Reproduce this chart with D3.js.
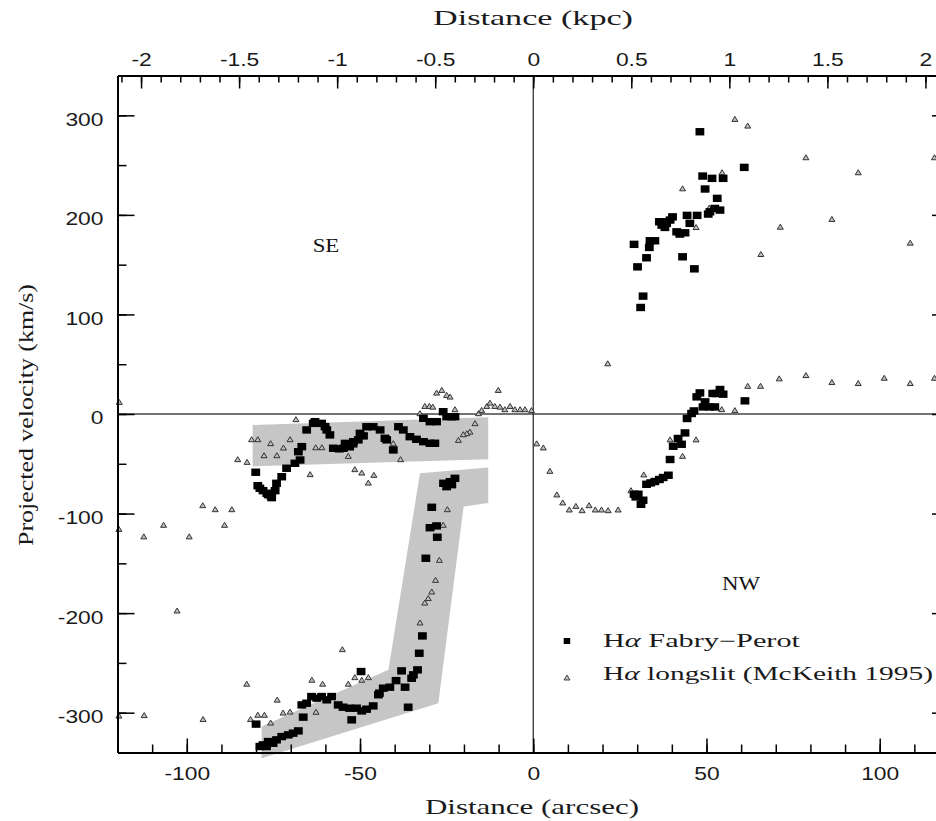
<!DOCTYPE html>
<html><head><meta charset="utf-8">
<script src="https://cdn.jsdelivr.net/npm/d3@7/dist/d3.min.js"></script>
<style>html,body{margin:0;padding:0;background:#fff;overflow:hidden}</style>
</head><body>
<svg id="chart" width="936" height="821"></svg>
<script>
// ---------- DATA (distance in arcsec, projected velocity in km/s) ----------
const fabryPerot = [
  // SE, upper band
  [-80.1,-58.5],[-79.5,-72],[-78.9,-74.6],[-78,-77],[-76.9,-79.6],[-76.5,-81],[-75.7,-82.3],[-75.5,-84],[-74.5,-77],
  [-74.1,-69.6],[-72.6,-63],[-71.2,-54.5],[-68.8,-49.5],[-67.3,-46.2],[-66.8,-32.8],[-67.8,-37.9],
  [-65.4,-16],[-63.5,-9.4],[-63,-7.7],[-61.1,-9.4],[-60.1,-12.7],[-59.6,-16],[-58.7,-21],[-57.7,-34.4],[-56,-35],
  [-54.8,-34.4],[-53,-33],[-54.3,-29.5],[-52,-30],[-51.9,-27.8],[-50.5,-26],[-50,-19.4],[-49,-22],[-48.1,-12.8],
  [-46.2,-12.8],[-44.2,-16],[-42.8,-24.4],[-42.3,-26],[-40.4,-36.1],[-38.9,-12.8],[-37.5,-16],[-35.6,-22.8],
  [-33.7,-25.4],[-31.7,-27.8],[-29.8,-29.4],[-28.4,-29.4],[-31.7,-4.3],[-29.8,-7.7],[-27.9,-7.7],[-26,2.3],
  [-25,-2.7],[-23.6,-2.7],[-22.6,-2.7],
  // SE, lower band
  [-25.9,-69.6],[-24,-68],[-22.6,-64.6],[-25,-73],[-23.5,-71],[-29.3,-93.7],[-29.8,-114.2],[-27.9,-112.4],
  [-27.7,-123.8],[-31,-144.9],[-32,-222.9],[-32.9,-240.3],[-38,-258],[-33.4,-257],[-34.6,-262],[-35.1,-265.4],
  [-39.6,-267.8],[-41.4,-274.4],[-43.3,-275.4],[-44.4,-280.4],[-44.7,-282],[-37,-274.4],[-36.1,-294.5],[-49.7,-258.7],
  [-46.2,-293.2],[-48.1,-296.5],[-49.5,-298.2],[-51,-295.5],[-53,-295.5],[-54.9,-294.5],[-56.3,-292.2],
  [-52.4,-307.2],[-58.2,-283.8],[-59.6,-287.1],[-61.1,-283.8],[-62.5,-285.4],[-64,-283.8],[-65.4,-290.5],
  [-66.8,-292.2],[-66.4,-304.5],[-80,-311.5],[-67.8,-318.3],[-69.3,-320.6],[-70.7,-322.3],[-72.6,-324],
  [-74.1,-327.3],[-75.1,-330.7],[-76.5,-329],[-78,-332.3],[-78.9,-334],[-77,-334],
  // NW, upper branch
  [48.1,283.5],[60.9,247.7],[48.9,239],[51.6,236.7],[54.8,236.7],[49.6,226],[53.1,216.6],[52.4,206.5],
  [53.9,204.8],[51,203.1],[50.5,200.8],[44.4,199.5],[47.3,199.5],[45.2,191.5],[40.2,198],[39.5,194.8],
  [37.5,193.1],[36.4,193.1],[37.1,189.7],[38,187.4],[38.5,191.5],[41.4,183],[42.3,180.7],[43.8,182],
  [35.1,174],[33.7,174],[33.5,167.3],[29.1,170.4],[32.7,156.9],[30.1,147.8],[43.1,157.9],[46.5,145.8],
  [31.7,118.4],[31,107],
  // NW, lower branch
  [29.1,-80.6],[30.3,-80.6],[29.6,-83.3],[31.1,-90.7],[31.7,-86.6],[32.7,-70.6],[33.9,-69.2],[35.1,-67.8],
  [36.4,-65.8],[37.5,-63.8],[39,-61.5],[39.5,-45.7],[40.4,-32.4],[42.8,-30.4],[41.8,-24.6],[43.8,-19],
  [44.4,-4.5],[45.7,0.5],[46.4,3.1],[48.1,21.2],[47.2,17.2],[49.6,12.2],[49,7.1],[50.9,7.1],[51.8,20.6],
  [52.9,20.6],[53.9,24.6],[54.8,19.9],[52.4,7.1],[61.1,13.2]
];

const longslit = [
  [-119.5,12],[-119.6,-115.5],[-112.4,-123],[-106.7,-111.4],[-99.3,-123],[-95.4,-91.7],[-91.8,-95.7],
  [-87,-95.7],[-89.1,-111.4],[-102.8,-197.5],[-119.6,-303],[-112.3,-302.5],[-95.3,-306.5],
  [-85.3,-45.5],[-82.6,-48.2],[-81.3,-25.4],[-79.5,-25.4],[-75.8,-29.4],[-70.2,-25.4],[-72.1,-33.8],
  [-77.7,-41.5],[-74,-41.5],[-68.5,-5.3],[-62.8,-33.5],[-61,-33.5],[-64.4,-60.5],[-53.4,-42.2],
  [-40.4,-29.4],[-38.3,-45.5],[-51.5,-55.5],[-49.5,-58.9],[-47.6,-69],[-46,-61.2],
  [-27.9,21.4],[-26.4,24.1],[-25,19.1],[-24,17.4],[-31.3,8],[-30,8],[-29,7.3],[-32.7,0.7],[-22.6,4.7],
  [-10.1,24.1],[-15.8,0.7],[-14.9,4],[-13.4,8],[-12.5,11.3],[-11.1,8],[-9.6,7.3],[-8.2,4.7],[-6.7,8],
  [-5.3,4.7],[-3.8,4.7],[-2.4,4.7],[-0.5,3.8],[-16.8,-9.3],[-18.3,-17.8],[-19.2,-19.4],[-20.2,-20.4],
  [-21.6,-26.1],
  [-24.8,-95.7],[-26,-111.4],[-27.1,-146.6],[-28.2,-166.7],[-29.3,-178.4],[-30.3,-185],[-31.3,-189.5],
  [-32.7,-209.5],[-55.1,-236.3],[-82.7,-271],[-63.9,-267],[-60.8,-271],[-53.4,-271],[-51.5,-264.4],
  [-49.5,-267],[-47.6,-264.4],[-73.9,-287],[-81.6,-306.5],[-79.5,-302.2],[-77.6,-302.2],[-75.8,-310],
  [-72.2,-300],[-70.2,-299],[-62.7,-299.2],
  [1,-29.6],[2.9,-33.7],[4.8,-57.2],[6.8,-80.9],[8.5,-88.9],[10.4,-96],[12.3,-92.4],[14.1,-96.7],
  [16.1,-91.7],[17.9,-96],[19.7,-96],[21.6,-96.7],[24.5,-96],[21.5,50.8],[28.2,-76.6],[31.9,-60.8],
  [39.5,-25.6],[43.1,-42.1],[47,-25.6],[54.4,4.8],[58.2,3.8],[61.9,28.2],[65.6,28.2],[71,35.7],
  [78.7,39],[86.2,32],[93.8,31],[101.3,36.3],[108.8,31],[115.8,36.3],
  [58.2,296.3],[61.9,289.6],[54.5,242.7],[43.1,226.6],[50.8,207.1],[47,187.7],[71.3,188],[65.7,160.6],
  [78.7,257.8],[93.8,242.7],[115.8,257.8],[86.2,195.8],[108.8,172]
];

// shaded regions (arcsec, km/s)
const bandUpper = [[-81,-11],[-13,-3.3],[-13,-45.5],[-81,-52.6]];
const bandLower = [[-32.7,-59.6],[-13,-53.7],[-13,-89.4],[-20.1,-93],[-27.4,-290.5],[-78.4,-345.7],[-78.4,-314],[-41.8,-257]];

const xMajorTicks = [-100,-50,0,50,100];
const xMinorTicks = d3.range(-12,13).map(d => d*10);
const kpcMajorTicks = [-2,-1.5,-1,-0.5,0,0.5,1,1.5,2];
const kpcMinorTicks = d3.range(-21,22).map(d => d/10);
const yMajorTicks = [-300,-200,-100,0,100,200,300];
const yMinorTicks = d3.range(-6,7).map(d => d*50);
const ARCSEC_PER_KPC = 56.6;

const legendLabels = ["Fabry\u2212Perot","longslit (McKeith 1995)"];

// ---------- CHART ----------
const SX = 1.27; // horizontal glyph stretch of the reference
const svg = d3.select("#chart");
const L = 117.5, R = 949, T = 75.5, B = 752.5;
const x = d3.scaleLinear().domain([-120,120]).range([L,R]);
const xk = d3.scaleLinear().domain([-120/ARCSEC_PER_KPC, 120/ARCSEC_PER_KPC]).range([L,R]);
const y = d3.scaleLinear().domain([-340,340]).range([B,T]);

// bands
const line = d3.line().x(d => x(d[0])).y(d => y(d[1]));
[bandUpper, bandLower].forEach(b => {
  svg.append("path").attr("d", line(b) + "Z").attr("fill", "#c6c6c6").attr("stroke", "none");
});

// zero lines
svg.append("line").attr("x1", L).attr("x2", R).attr("y1", y(0)).attr("y2", y(0))
  .attr("stroke", "#444").attr("stroke-width", 1.6);
svg.append("line").attr("x1", x(0)).attr("x2", x(0)).attr("y1", T).attr("y2", B)
  .attr("stroke", "#333").attr("stroke-width", 1.3);

// longslit triangles
svg.append("g").selectAll("path").data(longslit).join("path")
  .attr("d", d => { const cx = x(d[0]), cy = y(d[1]);
    return `M${cx-3},${cy+2.4}L${cx},${cy-2.6}L${cx+3},${cy+2.4}Z`; })
  .attr("fill", "#bdbdbd").attr("stroke", "#333").attr("stroke-width", 1);

// Fabry-Perot squares
svg.append("g").selectAll("rect").data(fabryPerot).join("rect")
  .attr("x", d => x(d[0]) - 4.4).attr("y", d => y(d[1]) - 3.7)
  .attr("width", 8.8).attr("height", 7.4).attr("fill", "#000");

// axes
function styleAxis(g) {
  g.selectAll(".tick line").attr("stroke", "#000").attr("stroke-width", 1.5);
  g.select(".domain").attr("stroke", "#000").attr("stroke-width", 1.8);
  g.selectAll("text").attr("font-family", "Liberation Sans, Arial, sans-serif")
    .attr("font-size", 18).attr("fill", "#1a1a1a");
}
const fmt = d => String(d);

// left
let g = svg.append("g").attr("transform", `translate(${L},0)`)
  .call(d3.axisLeft(y).tickValues(yMinorTicks).tickSize(-9).tickSizeOuter(0).tickFormat(""));
styleAxis(g);
g = svg.append("g").attr("transform", `translate(${L},0)`)
  .call(d3.axisLeft(y).tickValues(yMajorTicks).tickSize(-17).tickSizeOuter(0).tickPadding(14).tickFormat(fmt));
styleAxis(g);
g.selectAll("text").attr("x", -14/SX).attr("dy", "0.55em").attr("transform", `scale(${SX},1)`);

// right
g = svg.append("g").attr("transform", `translate(${R},0)`)
  .call(d3.axisRight(y).tickValues(yMinorTicks).tickSize(-9).tickSizeOuter(0).tickFormat(""));
styleAxis(g);
g = svg.append("g").attr("transform", `translate(${R},0)`)
  .call(d3.axisRight(y).tickValues(yMajorTicks).tickSize(-17).tickSizeOuter(0).tickFormat(""));
styleAxis(g);

// bottom (arcsec)
g = svg.append("g").attr("transform", `translate(0,${B})`)
  .call(d3.axisBottom(x).tickValues(xMinorTicks).tickSize(-8).tickSizeOuter(0).tickFormat(""));
styleAxis(g);
g = svg.append("g").attr("transform", `translate(0,${B})`)
  .call(d3.axisBottom(x).tickValues(xMajorTicks).tickSize(-14).tickSizeOuter(0).tickPadding(15).tickFormat(fmt));
styleAxis(g);
g.selectAll("text").attr("transform", `scale(${SX},1)`);

// top (kpc)
g = svg.append("g").attr("transform", `translate(0,${T})`)
  .call(d3.axisTop(xk).tickValues(kpcMinorTicks).tickSize(-7).tickSizeOuter(0).tickFormat(""));
styleAxis(g);
g = svg.append("g").attr("transform", `translate(0,${T})`)
  .call(d3.axisTop(xk).tickValues(kpcMajorTicks).tickSize(-13).tickSizeOuter(0).tickPadding(10).tickFormat(fmt));
styleAxis(g);
g.selectAll("text").attr("transform", `scale(${SX},1)`);

// titles
const serif = "Liberation Serif, serif";
svg.append("text").attr("x", 533).attr("y", 25).attr("text-anchor", "middle")
  .attr("font-family", serif).attr("font-size", 21).attr("fill", "#1a1a1a")
  .attr("textLength", 200).attr("lengthAdjust", "spacingAndGlyphs").text("Distance (kpc)");
svg.append("text").attr("x", 532).attr("y", 814).attr("text-anchor", "middle")
  .attr("font-family", serif).attr("font-size", 21).attr("fill", "#1a1a1a")
  .attr("textLength", 214).attr("lengthAdjust", "spacingAndGlyphs").text("Distance (arcsec)");
svg.append("text").attr("transform", "translate(33,415) rotate(-90)").attr("text-anchor", "middle")
  .attr("font-family", serif).attr("font-size", 20).attr("fill", "#1a1a1a")
  .attr("textLength", 262).attr("lengthAdjust", "spacingAndGlyphs").text("Projected velocity (km/s)");

// region labels
svg.append("text").attr("transform", `translate(326,252) scale(${SX},1)`).attr("text-anchor", "middle")
  .attr("font-family", serif).attr("font-size", 18).attr("fill", "#111").text("SE");
svg.append("text").attr("transform", `translate(741,590) scale(${SX},1)`).attr("text-anchor", "middle")
  .attr("font-family", serif).attr("font-size", 18).attr("fill", "#111").text("NW");

// legend
const lg = svg.append("g");
lg.append("rect").attr("x", 563.7).attr("y", 638).attr("width", 6.5).attr("height", 6).attr("fill", "#000");
lg.append("path").attr("d", "M564,680L567,675L570,680Z").attr("fill", "#bdbdbd").attr("stroke", "#333").attr("stroke-width", 0.9);
[[647, legendLabels[0], 197], [680, legendLabels[1], 330]].forEach(([yy, lab, len]) => {
  const t = lg.append("text").attr("x", 603).attr("y", yy).attr("font-family", serif)
    .attr("font-size", 18).attr("fill", "#1a1a1a").attr("textLength", len).attr("lengthAdjust", "spacingAndGlyphs");
  t.append("tspan").text("H");
  t.append("tspan").attr("font-style", "italic").text("\u03b1");
  t.append("tspan").text(" " + lab);
});
</script>
</body></html>
